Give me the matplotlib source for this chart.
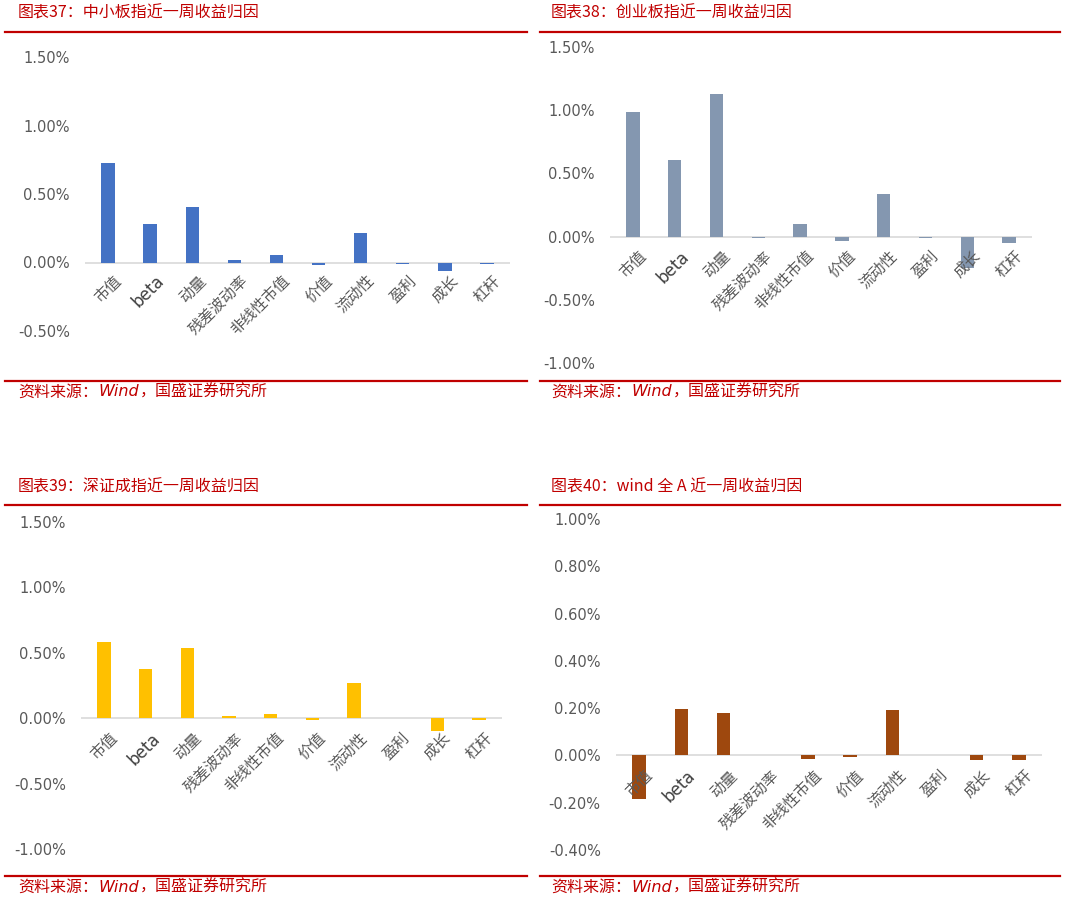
import matplotlib
matplotlib.use("Agg")
import matplotlib.pyplot as plt
from matplotlib.lines import Line2D
import numpy as np

plt.rcParams['font.family'] = ['Noto Sans CJK SC', 'DejaVu Sans']

factors = ["市值", "beta", "动量", "残差波动率", "非线性市值", "价值", "流动性", "盈利", "成长", "杠杆"]

# 近一周收益归因 (%)
zxb = [0.725, 0.28, 0.408, 0.017, 0.053, -0.02, 0.217, -0.01, -0.065, -0.01]
cyb = [0.987, 0.604, 1.13, -0.01, 0.098, -0.037, 0.335, -0.01, -0.245, -0.047]
szcz = [0.585, 0.374, 0.537, 0.013, 0.03, -0.015, 0.27, 0.0, -0.10, -0.015]
wind_a = [-0.184, 0.198, 0.181, 0.0, -0.014, -0.008, 0.194, 0.0, -0.02, -0.02]

titles = ["图表37：中小板指近一周收益归因", "图表38：创业板指近一周收益归因",
          "图表39：深证成指近一周收益归因", "图表40：wind 全 A 近一周收益归因"]
colors = ["#4472C4", "#8497B0", "#FFC000", "#9E480E"]

W, H = 1065, 900
fig = plt.figure(figsize=(W / 100, H / 100), dpi=100)
fig.patch.set_facecolor("white")

red = "#C00000"
gray = "#595959"


def px(x, y):
    return x / W, 1 - y / H


def hline(x0, x1, y):
    a, b = px(x0, y)
    c, _ = px(x1, y)
    fig.add_artist(Line2D([a, c], [b, b], color=red, lw=1.6, transform=fig.transFigure))


def panel(box, values, color, ymin, ymax, step, title, title_xy, lines, src_xy):
    l, t, r, b = box
    x0, y0 = px(l, b)
    x1, y1 = px(r, t)
    ax = fig.add_axes([x0, y0, x1 - x0, y1 - y0])
    x = np.arange(len(factors))
    ax.bar(x, values, width=0.32, color=color, zorder=3)
    ax.axhline(0, color="#D9D9D9", lw=1.2, zorder=2)
    ax.set_xlim(-0.55, len(factors) - 0.45)
    ax.set_ylim(ymin, ymax)
    ticks = np.arange(ymin, ymax + step / 2, step)
    ax.set_yticks(ticks)
    ax.set_yticklabels(["%.2f%%" % v for v in ticks], color=gray, fontsize=10.5,
                       family="DejaVu Sans")
    for s in ax.spines.values():
        s.set_visible(False)
    ax.tick_params(axis="y", length=0, pad=11)
    ax.set_xticks([])
    off = -(ymax - ymin) * 0.035
    for i, name in enumerate(factors):
        if name == "beta":
            ax.text(i + 0.12, off, name, rotation=45, ha="right", va="top",
                    rotation_mode="anchor", fontsize=12, color="#404040",
                    family="DejaVu Sans")
        else:
            ax.text(i + 0.12, off, name, rotation=45, ha="right", va="top",
                    rotation_mode="anchor", fontsize=11, color=gray)
    tx, ty = px(*title_xy)
    fig.text(tx, ty, title, color=red, fontsize=11.5, style="italic", va="center")
    hline(lines[0], lines[1], lines[2])
    hline(lines[0], lines[1], lines[3])
    sx, sy = px(*src_xy)
    fig.text(sx, sy, "资料来源：", color=red, fontsize=11.5, style="italic", va="center")
    fig.text(sx + 80 / W, sy, "Wind", color=red, fontsize=11.5, style="italic", va="center",
             family="DejaVu Sans")
    fig.text(sx + 122 / W, sy, "，国盛证券研究所", color=red, fontsize=11.5, style="italic",
             va="center")


panel((85, 57, 510, 331), zxb, colors[0], -0.5, 1.5, 0.5, titles[0], (18, 13),
      (5, 527, 32, 381), (18, 392))
panel((610, 47, 1032, 363), cyb, colors[1], -1.0, 1.5, 0.5, titles[1], (551, 13),
      (540, 1060, 32, 381), (551, 392))
panel((81, 522, 502, 849), szcz, colors[2], -1.0, 1.5, 0.5, titles[2], (18, 487),
      (5, 527, 505, 876), (18, 887))
panel((616, 519, 1042, 850), wind_a, colors[3], -0.4, 1.0, 0.2, titles[3], (551, 487),
      (540, 1060, 505, 876), (551, 887))

fig.savefig("out.png", dpi=100)
